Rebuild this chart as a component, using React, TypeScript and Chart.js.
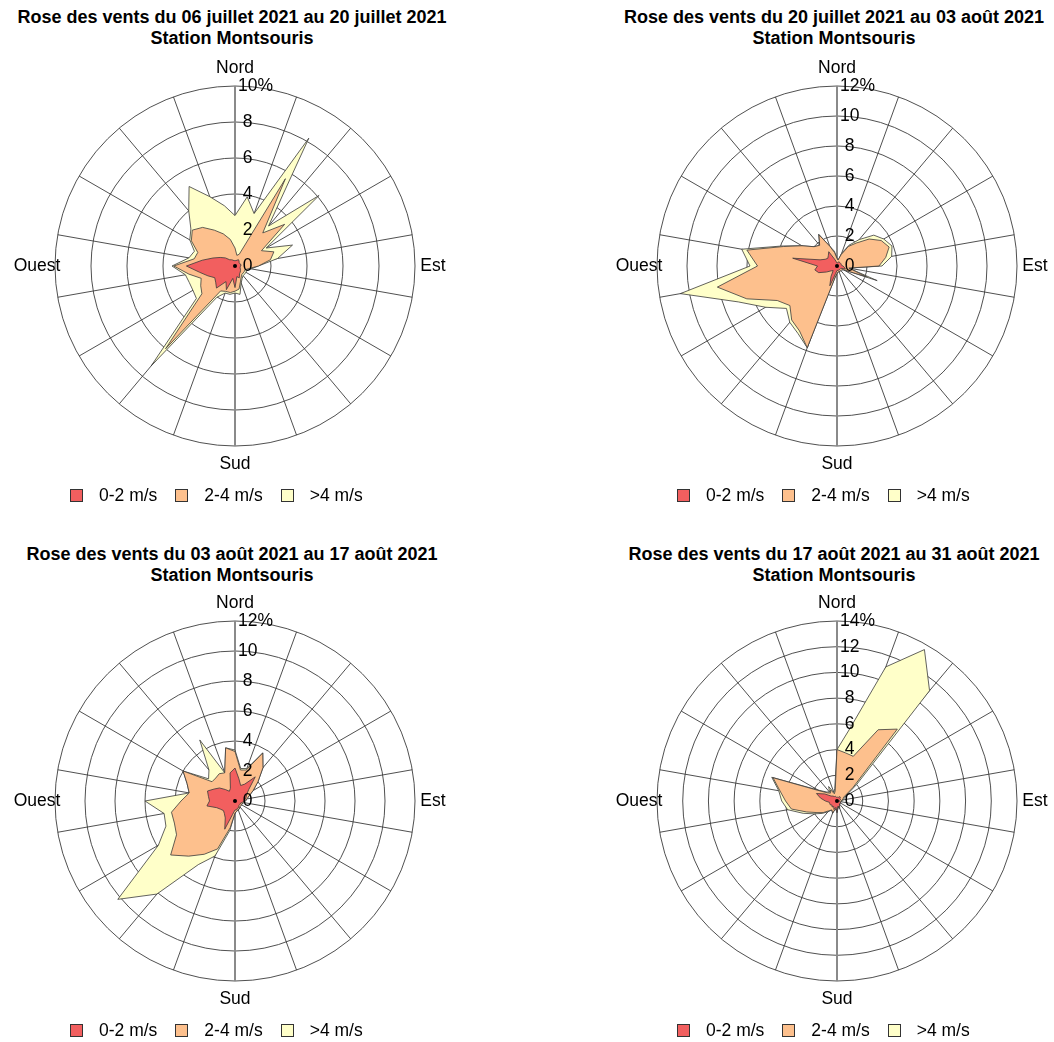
import React, { useEffect, useRef } from 'react';
import { Chart, registerables } from 'chart.js';

Chart.register(...registerables);

// ---------- DATA ----------
// 36 wind directions (degrees from North, clockwise)
const DIRECTIONS = [
  '0°', '10°', '20°', '30°', '40°', '50°', '60°', '70°', '80°', '90°',
  '100°', '110°', '120°', '130°', '140°', '150°', '160°', '170°', '180°', '190°',
  '200°', '210°', '220°', '230°', '240°', '250°', '260°', '270°', '280°', '290°',
  '300°', '310°', '320°', '330°', '340°', '350°',
];
const SPEED_CLASSES = ['0-2 m/s', '2-4 m/s', '>4 m/s'];
const CLASS_COLORS = ['#F25F5F', '#FDC08D', '#FFFFC9'];
const COMPASS_LABELS = ['Nord', 'Est', 'Sud', 'Ouest'];
const COMPASS_INDEX = [0, 9, 18, 27];
const SUBTITLE = 'Station Montsouris';

const TITLES = [
  'Rose des vents du 06 juillet 2021 au 20 juillet 2021',
  'Rose des vents du 20 juillet 2021 au 03 août 2021',
  'Rose des vents du 03 août 2021 au 17 août 2021',
  'Rose des vents du 17 août 2021 au 31 août 2021',
];

// Cumulative frequencies (%) per direction: up to 2 m/s, up to 4 m/s, all speeds
const P1_UPTO2 = [0.3, 0.3, 0.35, 0.4, 0.35, 0.3, 0.3, 0.3, 0.35, 0.3, 0.3, 0.3, 0.35, 0.4, 0.45, 0.5, 0.7, 0.6, 1.2, 0.7, 1.4, 1.0, 1.6, 1.4, 1.3, 1.6, 2.0, 2.7, 1.85, 1.3, 0.95, 0.7, 0.45, 0.4, 0.35, 0.3];
const P1_UPTO4 = [1.0, 0.6, 0.7, 5.6, 2.4, 3.6, 1.7, 2.3, 2.0, 1.3, 0.8, 0.6, 0.6, 0.6, 0.6, 0.7, 0.9, 1.3, 1.4, 1.5, 1.5, 1.6, 6.0, 2.4, 2.2, 2.0, 2.6, 3.4, 2.3, 2.2, 2.8, 3.1, 2.8, 2.3, 1.9, 1.5];
const P1_ALL = [2.8, 3.9, 3.1, 8.2, 2.9, 6.1, 2.0, 3.4, 2.4, 1.3, 0.9, 0.7, 0.7, 0.7, 0.7, 0.8, 1.0, 1.6, 1.5, 1.6, 1.6, 2.0, 7.25, 2.8, 2.7, 2.7, 2.8, 3.5, 2.6, 2.4, 2.9, 3.2, 4.0, 5.1, 4.1, 3.4];

const P2_UPTO2 = [0.2, 0.2, 0.3, 0.3, 0.3, 0.3, 0.3, 0.3, 0.3, 0.4, 0.5, 0.6, 0.3, 0.3, 0.3, 0.3, 0.3, 0.3, 0.3, 0.5, 1.4, 0.8, 0.4, 0.5, 0.8, 1.3, 1.5, 1.3, 3.0, 1.2, 0.9, 0.8, 0.9, 1.1, 0.5, 0.3];
const P2_UPTO4 = [0.5, 0.4, 0.8, 1.5, 2.0, 2.8, 3.4, 3.7, 3.3, 2.8, 0.8, 2.1, 0.5, 0.4, 0.4, 0.4, 0.4, 0.4, 0.5, 0.8, 5.8, 5.0, 4.7, 4.1, 4.6, 6.4, 8.1, 5.3, 6.1, 3.8, 2.7, 2.0, 1.8, 2.4, 1.4, 0.9];
const P2_ALL = [0.5, 0.4, 0.9, 1.6, 2.3, 3.2, 3.6, 3.9, 3.7, 3.0, 0.8, 2.85, 0.5, 0.4, 0.4, 0.4, 0.4, 0.4, 0.5, 0.8, 5.8, 5.2, 4.9, 4.4, 5.5, 7.0, 10.6, 5.8, 6.45, 3.9, 2.7, 2.0, 1.8, 2.45, 1.4, 1.0];

const P3_UPTO2 = [2.2, 1.5, 1.1, 1.3, 2.1, 1.2, 0.9, 0.8, 0.7, 0.6, 0.5, 0.4, 0.4, 0.4, 0.4, 0.5, 0.5, 0.6, 0.6, 0.9, 2.0, 1.3, 1.1, 1.0, 1.1, 1.3, 1.9, 1.7, 1.8, 1.95, 1.6, 1.35, 1.0, 0.75, 0.9, 1.9];
const P3_UPTO4 = [3.3, 2.1, 2.2, 3.7, 2.9, 2.0, 1.4, 1.0, 0.8, 0.7, 0.6, 0.5, 0.5, 0.5, 0.5, 0.6, 0.6, 0.7, 0.8, 1.8, 3.4, 4.1, 4.8, 5.6, 4.5, 4.3, 4.3, 3.6, 3.1, 3.4, 4.0, 2.0, 2.0, 2.1, 2.0, 3.6];
const P3_ALL = [3.4, 2.2, 2.3, 3.7, 2.9, 2.0, 1.4, 1.0, 0.8, 0.7, 0.6, 0.5, 0.5, 0.5, 0.5, 0.6, 0.6, 0.7, 0.8, 2.0, 3.9, 4.9, 8.1, 10.2, 5.9, 4.9, 4.8, 6.0, 3.1, 3.4, 4.0, 2.3, 2.7, 4.7, 2.0, 3.6];

const P4_UPTO2 = [0.3, 0.3, 0.3, 0.4, 0.4, 0.3, 0.3, 0.3, 0.2, 0.2, 0.2, 0.3, 0.3, 0.3, 0.3, 0.4, 0.5, 0.4, 0.8, 0.5, 0.7, 0.5, 0.6, 0.5, 0.6, 0.6, 0.6, 0.9, 1.3, 1.7, 1.1, 0.6, 0.5, 0.4, 0.4, 0.3];
const P4_UPTO4 = [4.0, 3.8, 3.7, 6.4, 7.3, 1.6, 0.6, 0.5, 0.4, 0.3, 0.3, 0.3, 0.3, 0.3, 0.3, 0.4, 0.6, 0.5, 0.9, 0.6, 1.0, 0.8, 1.0, 1.4, 1.8, 2.5, 3.6, 4.0, 4.5, 5.3, 1.6, 1.0, 0.8, 1.0, 0.6, 0.8];
const P4_ALL = [4.0, 5.7, 11.1, 13.6, 11.2, 2.0, 0.8, 0.6, 0.5, 0.4, 0.3, 0.3, 0.3, 0.3, 0.3, 0.4, 0.6, 0.5, 0.9, 0.6, 1.0, 0.8, 1.1, 1.5, 2.0, 2.8, 3.9, 4.3, 4.6, 5.4, 1.7, 1.1, 0.9, 1.3, 0.7, 1.0];

const TICKS_10 = [0, 2, 4, 6, 8, 10];
const TICK_LABELS_10 = [' 0', ' 2', ' 4', ' 6', ' 8', '10%'];
const TICKS_12 = [0, 2, 4, 6, 8, 10, 12];
const TICK_LABELS_12 = [' 0', ' 2', ' 4', ' 6', ' 8', '10', '12%'];
const TICKS_14 = [0, 2, 4, 6, 8, 10, 12, 14];
const TICK_LABELS_14 = [' 0', ' 2', ' 4', ' 6', ' 8', '10', '12', '14%'];

type PanelData = {
  title: string;
  max: number;
  ticks: number[];
  tickLabels: string[];
  series: number[][];
};

const PANELS: PanelData[] = [
  { title: TITLES[0], max: 10, ticks: TICKS_10, tickLabels: TICK_LABELS_10, series: [P1_UPTO2, P1_UPTO4, P1_ALL] },
  { title: TITLES[1], max: 12, ticks: TICKS_12, tickLabels: TICK_LABELS_12, series: [P2_UPTO2, P2_UPTO4, P2_ALL] },
  { title: TITLES[2], max: 12, ticks: TICKS_12, tickLabels: TICK_LABELS_12, series: [P3_UPTO2, P3_UPTO4, P3_ALL] },
  { title: TITLES[3], max: 14, ticks: TICKS_14, tickLabels: TICK_LABELS_14, series: [P4_UPTO2, P4_UPTO4, P4_ALL] },
];

// ---------- LAYOUT ----------
const LAYOUT = [
  { cx: 235, cy: 266, titleTop: 7, legendX: 70, legendY: 495 },
  { cx: 837, cy: 266, titleTop: 7, legendX: 677, legendY: 495 },
  { cx: 235, cy: 801, titleTop: 544, legendX: 70, legendY: 1030 },
  { cx: 837, cy: 801, titleTop: 544, legendX: 677, legendY: 1030 },
];

const FONT_FAMILY = '"Liberation Sans", Arial, Helvetica, sans-serif';
const CANVAS_SIZE = 470;
const PAD = 55;

function RosePanel({ panel, layout }: { panel: PanelData; layout: typeof LAYOUT[number] }) {
  const ref = useRef<HTMLCanvasElement>(null);

  useEffect(() => {
    const canvas = ref.current;
    if (!canvas) return;

    const overlay = {
      id: 'roseOverlay',
      afterDatasetsDraw(chart: any) {
        const r = chart.scales.r;
        const ctx = chart.ctx as CanvasRenderingContext2D;
        ctx.save();
        ctx.fillStyle = '#000';
        ctx.beginPath();
        ctx.arc(r.xCenter, r.yCenter, 2, 0, Math.PI * 2);
        ctx.fill();
        ctx.font = `17.5px ${FONT_FAMILY}`;
        ctx.textAlign = 'left';
        ctx.textBaseline = 'middle';
        panel.ticks.forEach((v, i) => {
          const d = r.getDistanceFromCenterForValue(v);
          ctx.fillText(panel.tickLabels[i], r.xCenter + 3, r.yCenter - d);
        });
        ctx.textAlign = 'center';
        COMPASS_INDEX.forEach((idx, i) => {
          const p = r.getPointPosition(idx, r.drawingArea * 1.1);
          ctx.fillText(COMPASS_LABELS[i], p.x, p.y);
        });
        ctx.restore();
      },
    };

    const chart = new Chart(canvas, {
      type: 'radar',
      data: {
        labels: DIRECTIONS,
        datasets: panel.series.map((s, i) => ({
          label: SPEED_CLASSES[i],
          data: s,
          backgroundColor: CLASS_COLORS[i],
          borderColor: '#3a3a3a',
          borderWidth: 0.8,
          fill: 'origin',
          pointRadius: 0,
          pointHoverRadius: 0,
        })),
      },
      options: {
        responsive: false,
        animation: false,
        devicePixelRatio: 1,
        layout: { padding: PAD },
        elements: { line: { tension: 0, borderJoinStyle: 'miter' } },
        plugins: {
          legend: { display: false },
          title: { display: false },
          tooltip: { enabled: false },
        },
        scales: {
          r: {
            min: 0,
            max: panel.max,
            ticks: { stepSize: 2, display: false },
            pointLabels: { display: false },
            grid: { circular: true, color: '#3c3c3c', lineWidth: 0.9 },
            angleLines: {
              color: (ctx: any) =>
                ctx.index === 0 || ctx.index === 18 ? '#8a8a8a' : ctx.index % 2 === 0 ? '#3c3c3c' : 'rgba(0,0,0,0)',
              lineWidth: (ctx: any) =>
                ctx.index === 0 || ctx.index === 18 ? 2 : ctx.index % 2 === 0 ? 0.9 : 0,
            },
          },
        },
      } as any,
      plugins: [overlay],
    });
    return () => chart.destroy();
  }, [panel]);

  return (
    <>
      <div
        style={{
          position: 'absolute',
          left: layout.cx - 3 - 300,
          top: layout.titleTop,
          width: 600,
          textAlign: 'center',
          font: `bold 18px ${FONT_FAMILY}`,
          lineHeight: '21px',
          color: '#000',
          whiteSpace: 'nowrap',
        }}
      >
        <div>{panel.title}</div>
        <div>{SUBTITLE}</div>
      </div>
      <canvas
        ref={ref}
        width={CANVAS_SIZE}
        height={CANVAS_SIZE}
        style={{
          position: 'absolute',
          left: layout.cx - CANVAS_SIZE / 2,
          top: layout.cy - CANVAS_SIZE / 2,
          width: CANVAS_SIZE,
          height: CANVAS_SIZE,
        }}
      />
      <div
        style={{
          position: 'absolute',
          left: layout.legendX,
          top: layout.legendY - 11,
          height: 22,
          display: 'flex',
          alignItems: 'center',
          font: `17.5px ${FONT_FAMILY}`,
          color: '#000',
          whiteSpace: 'nowrap',
        }}
      >
        {SPEED_CLASSES.map((c, i) => (
          <div key={c} style={{ display: 'flex', alignItems: 'center', marginRight: 18 }}>
            <span
              style={{
                display: 'inline-block',
                width: 13,
                height: 13,
                boxSizing: 'border-box',
                border: '1px solid #333',
                background: CLASS_COLORS[i],
                marginRight: 16,
              }}
            />
            <span>{c}</span>
          </div>
        ))}
      </div>
    </>
  );
}

export default function App() {
  return (
    <div
      style={{
        position: 'absolute',
        left: 0,
        top: 0,
        width: 1054,
        height: 1042,
        overflow: 'hidden',
        background: '#fff',
      }}
    >
      {PANELS.map((p, i) => (
        <RosePanel key={i} panel={p} layout={LAYOUT[i]} />
      ))}
    </div>
  );
}
